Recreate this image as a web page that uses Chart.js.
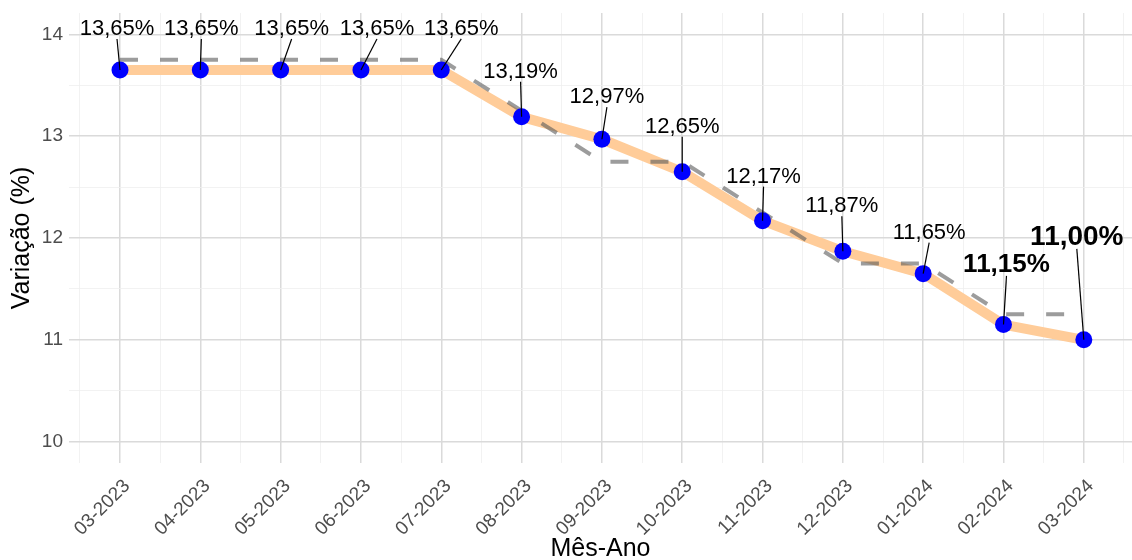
<!DOCTYPE html>
<html><head><meta charset="utf-8">
<script src="https://cdn.jsdelivr.net/npm/chart.js@4.4.1/dist/chart.umd.min.js"></script>
<style>html,body{margin:0;padding:0;background:#fff;overflow:hidden;} #wrap{width:1132px;height:560px;position:relative;} canvas{display:block;}</style>
</head><body><div id="wrap"><canvas id="c"></canvas></div>
<script>
// ---- data ----
const months = ['03-2023','04-2023','05-2023','06-2023','07-2023','08-2023','09-2023','10-2023','11-2023','12-2023','01-2024','02-2024','03-2024'];
const rateValues = [13.65,13.65,13.65,13.65,13.65,13.19,12.97,12.65,12.17,11.87,11.65,11.15,11.00];
const targetValues = [13.75,13.75,13.75,13.75,13.75,13.25,12.75,12.75,12.25,11.75,11.75,11.25,11.25];
const yTickValues = [10,10.5,11,11.5,12,12.5,13,13.5,14];
const xTickValues = [-0.5,0,0.5,1,1.5,2,2.5,3,3.5,4,4.5,5,5.5,6,6.5,7,7.5,8,8.5,9,9.5,10,10.5,11,11.5,12,12.5];

// ---- label placement (pixel offsets from each point, repel-style) ----
const labelOffsets = [[-3,-41],[1,-41],[11,-41],[16,-41],[20,-41],[-1,-45],[5,-42],[0,-45],[1,-44],[-1,-45],[6,-41],[3,-60],[-7,-103]];
const labelFonts = [
  {size:22,weight:'normal'},{size:22,weight:'normal'},{size:22,weight:'normal'},{size:22,weight:'normal'},{size:22,weight:'normal'},
  {size:22,weight:'normal'},{size:22,weight:'normal'},{size:22,weight:'normal'},{size:22,weight:'normal'},{size:22,weight:'normal'},
  {size:22,weight:'normal'},{size:26,weight:'bold'},{size:28,weight:'bold'}
];
const FONT = '"Liberation Sans", Arial, Helvetica, sans-serif';

const fmt = v => v.toFixed(2).replace('.', ',') + '%';

const labelPlugin = {
  id: 'pointLabels',
  afterDatasetsDraw(chart) {
    const meta = chart.getDatasetMeta(0);
    const ctx = chart.ctx;
    ctx.save();
    meta.data.forEach((pt, i) => {
      const [dx, dy] = labelOffsets[i];
      const f = labelFonts[i];
      const lx = pt.x + dx, ly = pt.y + dy;
      ctx.strokeStyle = '#000';
      ctx.lineWidth = 1.2;
      ctx.beginPath();
      ctx.moveTo(lx, ly + f.size * 0.36 + 2);
      ctx.lineTo(pt.x, pt.y);
      ctx.stroke();
      ctx.font = f.weight + ' ' + f.size + 'px ' + FONT;
      ctx.fillStyle = '#000';
      ctx.textAlign = 'center';
      ctx.textBaseline = 'middle';
      ctx.fillText(fmt(rateValues[i]), lx, ly);
    });
    ctx.restore();
  }
};

const isMajor = v => Math.abs(v - Math.round(v)) < 1e-9;

new Chart(document.getElementById('c'), {
  type: 'line',
  data: {
    datasets: [
      {
        label: 'pontos',
        data: rateValues.map((v, i) => ({x: i, y: v})),
        showLine: false,
        pointRadius: 8.5,
        pointBackgroundColor: '#0000ff',
        pointBorderColor: '#0000ff',
        pointBorderWidth: 0,
        clip: false,
        order: 0
      },
      {
        label: 'meta',
        data: targetValues.map((v, i) => ({x: i, y: v})),
        borderColor: 'rgba(90,90,90,0.6)',
        borderWidth: 4,
        borderDash: [18, 22],
        pointRadius: 0,
        fill: false,
        tension: 0,
        order: 1
      },
      {
        label: 'taxa',
        data: rateValues.map((v, i) => ({x: i, y: v})),
        borderColor: '#ffcc99',
        borderWidth: 10,
        borderJoinStyle: 'round',
        borderCapStyle: 'round',
        pointRadius: 0,
        fill: false,
        tension: 0,
        order: 2
      }
    ]
  },
  options: {
    responsive: true,
    maintainAspectRatio: false,
    animation: false,
    devicePixelRatio: 1,
    layout: {autoPadding: false, padding: {top: 13, left: 0, right: 0, bottom: 0}},
    plugins: {legend: {display: false}, tooltip: {enabled: false}},
    scales: {
      x: {
        type: 'linear',
        min: -0.635,
        max: 12.6,
        afterBuildTicks: s => { s.ticks = xTickValues.map(v => ({value: v})); },
        afterFit: s => { s.height = 97; s.paddingLeft = 0; s.paddingRight = 0; },
        border: {display: false},
        grid: {
          drawTicks: false,
          color: c => isMajor(c.tick.value) ? '#dadada' : '#efefef',
          lineWidth: c => isMajor(c.tick.value) ? 1.5 : 0.8
        },
        ticks: {
          autoSkip: false,
          minRotation: 45,
          maxRotation: 45,
          padding: 12,
          labelOffset: 7,
          color: '#4d4d4d',
          font: {family: FONT, size: 19},
          callback: v => isMajor(v) ? months[Math.round(v)] : ''
        },
        title: {
          display: true,
          text: 'Mês-Ano',
          color: '#000',
          font: {family: FONT, size: 25},
          padding: {top: 0, bottom: -4}
        }
      },
      y: {
        type: 'linear',
        min: 9.79,
        max: 14.21,
        afterBuildTicks: s => { s.ticks = yTickValues.map(v => ({value: v})); },
        afterFit: s => { s.width = 69; s.paddingTop = 0; s.paddingBottom = 0; },
        border: {display: false},
        grid: {
          drawTicks: false,
          color: c => isMajor(c.tick.value) ? '#dadada' : '#efefef',
          lineWidth: c => isMajor(c.tick.value) ? 1.5 : 0.8
        },
        ticks: {
          padding: 6,
          color: '#4d4d4d',
          font: {family: FONT, size: 19},
          callback: v => isMajor(v) ? String(v) : ''
        },
        title: {
          display: true,
          text: 'Variação (%)',
          color: '#000',
          font: {family: FONT, size: 25},
          padding: {top: 7, bottom: 0}
        }
      }
    }
  },
  plugins: [labelPlugin]
});
</script>
</body></html>
